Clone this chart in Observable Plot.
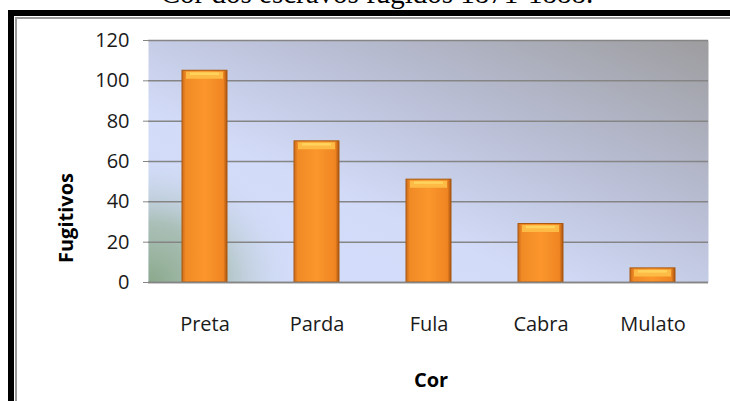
<!DOCTYPE html>
<html>
<head>
<meta charset="utf-8">
<script src="https://cdn.jsdelivr.net/npm/d3@7"></script>
<script src="https://cdn.jsdelivr.net/npm/@observablehq/plot@0.6"></script>
<style>
  html, body { margin: 0; padding: 0; background: #fff; }
  #wrap { position: relative; width: 730px; height: 401px; overflow: hidden; background: #fff; }
  #title { position: absolute; left: 0; width: 754px; top: -21px; line-height: 29px; text-align: center;
           font-family: "Liberation Serif", "DejaVu Serif", serif; font-size: 29px; color: #000; white-space: nowrap; }
  #frameOuter { position: absolute; left: 8px; top: 10px; width: 800px; height: 500px;
                border-left: 6px solid #000; border-top: 6px solid #000; background: #fff; }
  #frameInner { position: absolute; left: 15px; top: 17px; width: 800px; height: 500px;
                border-left: 2px solid #9a9a9a; border-top: 2px solid #9a9a9a; }
  #chart { position: absolute; left: 0; top: 0; }
  #ylab { position: absolute; left: 65px; top: 218px; transform: translate(-50%, -50%) rotate(-90deg);
          font-family: "Open Sans", sans-serif; font-weight: bold; font-size: 20px; color: #000; white-space: nowrap; }
  #xlab { position: absolute; left: 431px; top: 379px; transform: translate(-50%, -50%);
          font-family: "Open Sans", sans-serif; font-weight: bold; font-size: 20px; color: #000; white-space: nowrap; }
  #chart svg text { fill: #1a1a1a; }
</style>
</head>
<body>
<div id="wrap">
  <div id="frameOuter"></div>
  <div id="frameInner"></div>
  <div id="title">Cor dos escravos fugidos 1871-1888.</div>
  <div id="chart"></div>
  <div id="ylab">Fugitivos</div>
  <div id="xlab">Cor</div>
</div>
<script>
const categories = ["Preta", "Parda", "Fula", "Cabra", "Mulato"];
const fugitivos = [105, 70, 51, 29, 7];
const yTicks = [0, 20, 40, 60, 80, 100, 120];

const data = categories.map((c, i) => ({cor: c, value: fugitivos[i]}));

const plot = Plot.plot({
  width: 730,
  height: 401,
  marginLeft: 148,
  marginRight: 22,
  marginTop: 40,
  marginBottom: 119,
  style: {background: "transparent", fontFamily: "Open Sans, sans-serif", fontSize: "20px", overflow: "visible"},
  x: {domain: categories, paddingInner: 0.6, paddingOuter: 0.3, label: null},
  y: {domain: [0, 120], label: null},
  marks: [
    Plot.frame({fill: "url(#bgGrad)", stroke: null}),
    Plot.frame({fill: "url(#greenGrad)", stroke: null}),
    Plot.gridY(yTicks, {stroke: "#858585", strokeOpacity: 1, strokeWidth: 1.5}),
    Plot.ruleX([0], {frameAnchor: "left", stroke: "#b0b0b0", strokeWidth: 1.5}),
    Plot.axisY(yTicks, {tickSize: 5, tickPadding: 14, stroke: "#858585", fontSize: 20, tickFormat: d => String(d)}),
    Plot.axisX({tickSize: 0, tickPadding: 34, fontSize: 20, label: null}),
    Plot.barY(data, {x: "cor", y: "value", fill: "url(#barGrad)", stroke: "#a85a12", strokeWidth: 1,
      style: "filter: drop-shadow(1px 2px 2px rgba(0,0,0,0.35))"}),
    Plot.tickY(data, {x: "cor", y: "value", stroke: "#fdbb45", strokeWidth: 7, dy: 4.5, insetLeft: 4, insetRight: 4}),
    Plot.tickY(data, {x: "cor", y: "value", stroke: "#ffd35c", strokeWidth: 2.5, dy: 3, insetLeft: 8, insetRight: 8}),
    Plot.ruleY([0], {stroke: "#858585", strokeWidth: 1.5})
  ]
});

const ns = "http://www.w3.org/2000/svg";
const defs = document.createElementNS(ns, "defs");
defs.innerHTML = `
  <linearGradient id="bgGrad" x1="1" y1="0" x2="0" y2="1">
    <stop offset="0" stop-color="#9d9d9f"/>
    <stop offset="0.35" stop-color="#b8bdd3"/>
    <stop offset="0.65" stop-color="#d2dbf8"/>
    <stop offset="1" stop-color="#d4defc"/>
  </linearGradient>
  <radialGradient id="greenGrad" cx="0" cy="1" r="0.55" gradientTransform="scale(0.5,1)">
    <stop offset="0" stop-color="#8aa98b" stop-opacity="1"/>
    <stop offset="0.45" stop-color="#9db6a2" stop-opacity="0.75"/>
    <stop offset="1" stop-color="#d4defc" stop-opacity="0"/>
  </radialGradient>
  <linearGradient id="barGrad" x1="0" y1="0" x2="1" y2="0">
    <stop offset="0" stop-color="#c9681a"/>
    <stop offset="0.08" stop-color="#f08a25"/>
    <stop offset="0.5" stop-color="#fb962c"/>
    <stop offset="0.92" stop-color="#ee8522"/>
    <stop offset="1" stop-color="#a8520e"/>
  </linearGradient>`;
plot.insertBefore(defs, plot.firstChild);

document.getElementById("chart").appendChild(plot);
</script>
</body>
</html>
